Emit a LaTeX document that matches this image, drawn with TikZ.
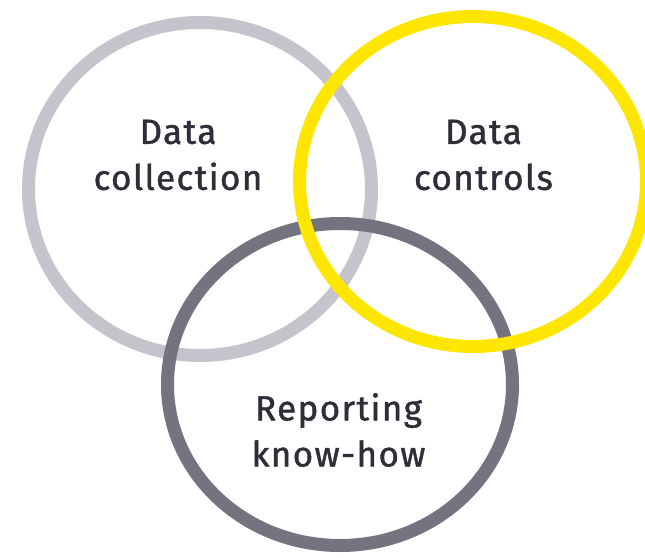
\documentclass[tikz,border=0pt]{standalone}
\usepackage{fontspec}
\setmainfont{Fira Sans}
\newfontfamily\labelfont{Fira Sans}[LetterSpace=4,FakeBold=1.2]
\definecolor{ringlight}{HTML}{C4C4CD}
\definecolor{ringyellow}{HTML}{FFE600}
\definecolor{ringdark}{HTML}{747480}
\definecolor{labelink}{HTML}{2E2E38}
\begin{document}
\begin{tikzpicture}[x=1pt,y=-1pt,
  ring/.style={line width=13pt},
  ringlabel/.style={align=center,inner sep=0pt,text=labelink,
    font=\labelfont\fontsize{35}{46}\selectfont}]
  \useasboundingbox (0,0) rectangle (645,557);
  \fill[white] (0,0) rectangle (645,557);
  % three overlapping rings
  \draw[ring,ringlight]  (200,189) ellipse [x radius=171.5, y radius=166.5];
  \draw[ring,ringdark]   (340,384.5) ellipse [x radius=172.5, y radius=161];
  \draw[ring,ringyellow] (473,181.5) ellipse [x radius=173.5, y radius=165];
  % labels
  \node[ringlabel] (collection) at (178,155) {Data\\collection};
  \node[ringlabel] (controls)   at (483.5,155) {Data\\controls};
  \node[ringlabel] (reporting)  at (338.5,430) {Reporting\\know-how};
\end{tikzpicture}
\end{document}
